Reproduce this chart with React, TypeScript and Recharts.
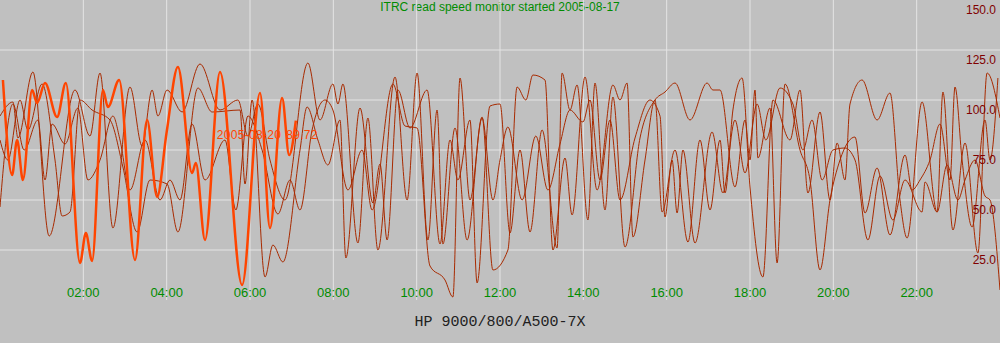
import React from "react";
import {
  LineChart, Line, XAxis, YAxis, CartesianGrid, LabelList,
} from "recharts";

// time of day in hours at each turning point
const HOURS_A = [
  0, 0.31, 0.43, 0.79, 1.18, 1.8, 2.16, 2.4, 2.71, 3.12,
  3.41, 3.65, 3.79, 4.01, 4.37, 4.8, 5.28, 5.71, 5.95, 6.19,
  6.48, 6.84, 7.39, 7.68, 7.99, 8.11, 8.23, 8.59, 8.83, 9.07,
  9.48, 9.77, 10.01, 10.27, 10.49, 10.63, 10.92, 11.21, 11.57, 11.83,
  12.19, 12.41, 12.62, 12.79, 13.08, 13.27, 13.56, 13.73, 14.04, 14.33,
  14.71, 14.88, 15.05, 15.19, 15.48, 15.72, 15.89, 16.2, 16.51, 16.8,
  17.04, 17.28, 17.4, 17.59, 17.81, 18.0, 18.31, 18.55, 18.96, 19.2,
  19.39, 19.68, 19.92, 20.09, 20.28, 20.4, 20.69, 21.05, 21.36, 21.6,
  21.77, 22.13, 22.49, 22.63, 22.87, 23.16, 23.47, 23.69, 24,
];
const SPEED_A = [
  92, 99, 81, 114, 32, 105, 82, 113.5, 36, 106.5,
  77, 105, 92, 105, 94, 118, 95, 100, 82, 98,
  70, 50, 118.5, 90, 108, 98, 108, 28.5, 91, 25,
  111.5, 50, 113.5, 30, 95, 28, 86, 30, 91.5, 15,
  25, 106.5, 100, 112.5, 110, 25, 71, 42.5, 111.5, 55,
  107.5, 100, 108.5, 31.5, 70, 100, 44, 75, 29, 80,
  45, 80, 53.5, 95, 111, 56.5, 11.5, 100, 80, 105,
  53.5, 94, 50, 78.5, 60, 98, 110, 90, 103.5, 50,
  31, 99, 44, 104, 35, 78.5, 23.5, 113.5, 91,
];

const HOURS_B = [
  0, 0.19, 0.48, 0.67, 1.01, 1.32, 1.49, 1.68, 1.92, 2.21,
  2.64, 2.95, 3.29, 3.6, 4.01, 4.27, 4.75, 5.09, 5.76, 5.88,
  6.05, 6.36, 6.55, 6.79, 7.2, 7.37, 7.63, 7.87, 8.16, 8.3,
  8.64, 8.95, 9.12, 9.29, 9.55, 9.84, 10.25, 10.56, 10.8, 10.99,
  11.28, 11.45, 11.76, 12.0, 12.24, 12.48, 12.72, 13.01, 13.37, 13.49,
  13.68, 13.85, 14.11, 14.28, 14.52, 14.71, 15.0, 15.36, 15.72, 15.96,
  16.2, 16.56, 16.97, 17.11, 17.28, 17.64, 17.88, 18.0, 18.12, 18.19,
  18.48, 18.65, 18.84, 19.2, 19.44, 19.68, 19.92, 20.16, 20.52, 20.76,
  21.05, 21.36, 21.72, 21.89, 22.08, 22.32, 22.56, 22.8, 22.92, 23.09,
  23.33, 23.64, 23.76, 23.95,
];
const SPEED_B = [
  80, 70, 100, 85, 108, 70, 42, 44, 100, 95,
  90, 66.5, 34, 60, 58, 34, 106, 94, 95, 58,
  100, 11.5, 27.5, 19, 75, 96.5, 80, 67.5, 90, 21,
  96, 48.5, 68, 30, 105, 86, 105, 28, 80, 60,
  90, 8.5, 97, 98, 33.5, 75, 34, 85, 26, 113.5,
  95, 107.5, 40, 108.5, 45, 101.5, 26.5, 81, 100, 104,
  108.5, 90, 108.5, 105, 105, 56.5, 90, 70, 105, 71,
  96, 18.5, 108, 75, 60, 15, 50, 70, 81.5, 43.5,
  66, 32.5, 72.5, 55, 60, 70, 88, 60, 106.5, 70,
  36.5, 90, 70, 111,
];

const HOURS_C = [
  0, 0.31, 0.58, 0.91, 1.08, 1.25, 1.56, 1.87, 2.11, 2.4,
  2.71, 2.88, 3.12, 3.48, 3.84, 4.08, 4.32, 4.61, 4.92, 5.4,
  5.66, 5.95, 6.29, 6.67, 6.96, 7.2, 7.49, 7.8, 7.99, 8.35,
  8.69, 8.93, 9.43, 9.72, 10.01, 10.32, 10.68, 10.87, 11.04, 11.28,
  11.57, 11.83, 12.0, 12.19, 12.53, 12.86, 13.15, 13.44, 13.68, 13.99,
  14.16, 14.4, 14.64, 14.88, 15.24, 15.6, 15.84, 15.96, 16.13, 16.25,
  16.39, 16.68, 17.09, 17.35, 17.64, 17.88, 18.17, 18.38, 18.72, 19.03,
  19.27, 19.49, 19.73, 19.99, 20.28, 20.52, 20.83, 21.12, 21.43, 21.72,
  22.13, 22.2, 22.49, 22.73, 22.99, 23.16, 23.4, 23.64, 23.76, 24,
];
const SPEED_C = [
  46.5, 98, 75, 90, 60, 88, 78, 96, 60, 70,
  92, 80, 55, 80, 50, 60, 50, 88, 60, 80,
  45, 92, 75, 43, 60, 45, 85, 100, 95, 55,
  75, 45, 108, 87, 86, 17, 10, 1.5, 111, 50,
  91, 50, 70, 86.5, 50, 82, 55, 78, 95, 89,
  100, 60, 90, 50, 81, 100, 92, 41.5, 70, 43.5,
  75, 28.5, 84, 53.5, 90, 63.5, 98, 80, 106, 98,
  75, 90, 60, 75, 76, 70, 30, 62, 40, 60,
  44, 59, 44, 67.5, 50, 60, 70, 52, 50, 5,
];

// today (2005-08-20), still running
const HOURS_TODAY = [
  0.07, 0.29, 0.41, 0.55, 0.77, 0.89, 1.08, 1.37, 1.58, 1.92,
  2.06, 2.21, 2.47, 2.59, 2.86, 3.24, 3.53, 3.77, 4.0, 4.27,
  4.61, 4.7, 4.92, 5.28, 5.81, 6.24, 6.48, 6.77, 6.94, 7.1,
];
const SPEED_TODAY = [
  110, 62.5, 80, 60, 105, 98.5, 108.5, 91.5, 108.5, 18.5,
  33.5, 19.5, 105, 96.5, 110, 20, 90, 51.5, 84, 116.5,
  63.5, 68.5, 30, 114, 7.5, 103.5, 36, 101, 72.5, 89.72,
];

const TIME_TICKS = [2, 4, 6, 8, 10, 12, 14, 16, 18, 20, 22];
const SPEED_TICKS = [25, 50, 75, 100, 125, 150];
const GRID_SPEEDS = [25, 50, 75, 100, 125];

const TITLE = "ITRC read speed monitor started 2005-08-17";
const HOST = "HP 9000/800/A500-7X";
const TODAY = "2005-08-20";

const OLD_COLOR = "#a82a00";
const TODAY_COLOR = "#ff4500";
const FONT = "'Liberation Sans', Arial, sans-serif";

const toRows = (hours: number[], speeds: number[]) =>
  hours.slice(0, Math.min(hours.length, speeds.length)).map((h, i) => ({ h, v: speeds[i] }));

const seriesA = toRows(HOURS_A, SPEED_A);
const seriesB = toRows(HOURS_B, SPEED_B);
const seriesC = toRows(HOURS_C, SPEED_C);
const seriesToday = toRows(HOURS_TODAY, SPEED_TODAY);

const fmtHour = (h: number) => `${String(h).padStart(2, "0")}:00`;

const TimeTick = ({ x, payload }: any) => (
  <text x={x} y={297} textAnchor="middle" fill="#008c00" fontSize={13} fontFamily={FONT}>
    {fmtHour(payload.value)}
  </text>
);

const SpeedTick = ({ y, payload }: any) => (
  <text x={996} y={y + 14} textAnchor="end" fill="#800000" fontSize={12} fontFamily={FONT}>
    {Number(payload.value).toFixed(1)}
  </text>
);

const TodayLabel = ({ x, y, index }: any) =>
  index === seriesToday.length - 1 ? (
    <text x={x - 79} y={y + 18} fill={TODAY_COLOR} fontSize={12} fontFamily={FONT} letterSpacing={0.3}>
      <tspan>{TODAY}</tspan>
      <tspan dx={5}>{SPEED_TODAY[SPEED_TODAY.length - 1]}</tspan>
    </text>
  ) : null;

const thin = {
  dataKey: "v",
  type: "monotone" as const,
  stroke: OLD_COLOR,
  strokeWidth: 1,
  dot: false,
  activeDot: false,
  isAnimationActive: false,
};

export default function App() {
  return (
    <div style={{ position: "absolute", left: 0, top: 0, width: 1000, height: 343, background: "#c0c0c0" }}>
      <div style={{
        position: "absolute", top: 0, left: 0, width: 1000, textAlign: "center",
        color: "#008c00", font: `12px/14px ${FONT}`,
      }}>
        {TITLE}
      </div>
      <LineChart width={1000} height={343} margin={{ top: 0, right: 0, bottom: 0, left: 0 }}>
        <CartesianGrid stroke="#e4e4e4" strokeWidth={1}
          horizontalValues={GRID_SPEEDS} verticalValues={TIME_TICKS} />
        <XAxis dataKey="h" type="number" domain={[0, 24]} ticks={TIME_TICKS} height={43}
          axisLine={false} tickLine={false} tick={<TimeTick />} allowDataOverflow
          label={{
            content: () => (
              <text x={500} y={326} textAnchor="middle" fill="#202020" fontSize={15}
                fontFamily="'Liberation Mono', monospace">
                {HOST}
              </text>
            ),
          }} />
        <YAxis orientation="right" mirror type="number" domain={[0, 150]} ticks={SPEED_TICKS}
          width={40} interval={0} axisLine={false} tickLine={false} tick={<SpeedTick />}
          allowDataOverflow />
        <Line data={seriesA} {...thin} />
        <Line data={seriesB} {...thin} />
        <Line data={seriesC} {...thin} />
        <Line data={seriesToday} dataKey="v" type="monotone" stroke={TODAY_COLOR} strokeWidth={2.5}
          dot={false} activeDot={false} isAnimationActive={false}>
          <LabelList dataKey="v" content={<TodayLabel />} />
        </Line>
      </LineChart>
    </div>
  );
}
